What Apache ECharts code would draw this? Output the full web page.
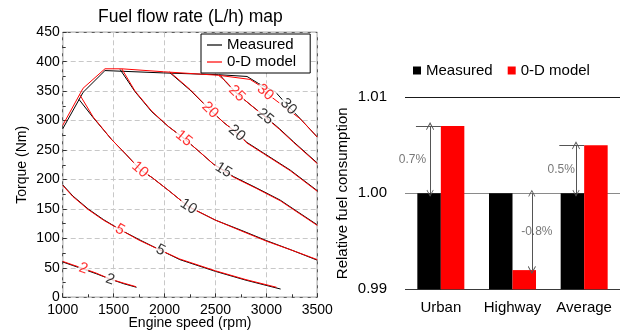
<!DOCTYPE html>
<html>
<head>
<meta charset="utf-8">
<script src="https://cdn.jsdelivr.net/npm/echarts@6/dist/echarts.min.js"></script>
<style>
  html, body { margin: 0; padding: 0; background: #fff; }
  #chart { width: 624px; height: 332px; }
</style>
</head>
<body>
<div id="chart"></div>
<script>
// ---------- Left panel: fuel flow rate (L/h) iso-lines, [engine speed rpm, torque Nm] ----------
const levels = [2, 5, 10, 15, 20, 25, 30];

// full-load torque curve
const measuredLimit = [[1000, 286], [1200, 348], [1415, 385], [1990, 381], [2530, 378], [2810, 375]];
const modelLimit    = [[1000, 292], [1200, 355], [1415, 388], [1580, 388], [1990, 383], [2530, 377], [2840, 370]];

const measured2  = [[1000, 60], [1100, 54], [1200, 48], [1330, 40], [1465, 31], [1600, 23], [1725, 17]];
const model2     = [[1000, 61], [1100, 55], [1203, 49], [1330, 41], [1465, 31], [1600, 24], [1720, 18]];
const measured5  = [[1000, 191], [1100, 172], [1250, 150], [1400, 132], [1563, 115], [1750, 98], [1960, 80], [2150, 64], [2500, 44], [2800, 29], [3140, 14]];
const model5     = [[1000, 190], [1100, 171], [1250, 149], [1400, 131], [1563, 115], [1750, 97], [1960, 80], [2150, 65], [2500, 45], [2800, 30], [3100, 17]];
const measured10 = [[1160, 336], [1300, 305], [1480, 268], [1620, 243], [1760, 217], [1880, 203], [2050, 180], [2235, 154], [2500, 131], [2750, 114], [3005, 96], [3250, 80], [3500, 63]];
const model10    = [[1167, 344], [1300, 306], [1480, 268], [1620, 243], [1760, 217], [1880, 203], [2050, 180], [2235, 154], [2500, 131], [2750, 113], [3005, 95], [3250, 80], [3500, 64]];
const measured15 = [[1563, 387], [1711, 349], [1875, 315], [2038, 290], [2190, 270], [2350, 246], [2481, 226], [2579, 216], [2677, 205], [2900, 186], [3136, 165], [3300, 146], [3500, 123]];
const model15    = [[1580, 388], [1711, 350], [1875, 316], [2038, 290], [2190, 270], [2350, 246], [2481, 226], [2579, 215], [2677, 204], [2900, 185], [3136, 164], [3300, 145], [3500, 122]];
const measured20 = [[2055, 381], [2250, 352], [2448, 318], [2580, 297], [2710, 279], [2809, 263], [2972, 245], [3234, 216], [3500, 181]];
const model20    = [[2050, 383], [2250, 353], [2448, 318], [2580, 297], [2710, 279], [2809, 262], [2972, 244], [3234, 215], [3500, 180]];
const measured25 = [[2546, 377], [2600, 366], [2710, 346], [2850, 326], [2989, 307], [3130, 286], [3267, 264], [3500, 228]];
const model25    = [[2530, 377], [2600, 367], [2710, 346], [2850, 326], [2989, 306], [3130, 285], [3267, 263], [3500, 227]];
const measured30 = [[2810, 375], [2923, 363], [3087, 349], [3218, 324], [3350, 300], [3431, 285], [3500, 272]];
const model30    = [[2840, 370], [2940, 359], [2990, 348], [3104, 333], [3333, 303], [3500, 272]];

// where each level's value is written along its line
const measuredLabelAt = [[1465, 30], [1960, 80], [2235, 154], [2579, 216], [2710, 279], [2989, 307], [3218, 324]];
const modelLabelAt    = [[1203, 49], [1563, 115], [1760, 217], [2190, 270], [2448, 318], [2710, 346], [2989, 348]];

const xTicks = [1000, 1500, 2000, 2500, 3000, 3500];
const yTicks = [0, 50, 100, 150, 200, 250, 300, 350, 400, 450];

// ---------- Right panel: relative fuel consumption per cycle ----------
const cycles = ['Urban', 'Highway', 'Average'];
const measuredRel = [1.000, 1.000, 1.000];
const modelRel = [1.007, 0.992, 1.005];
const relTicks = [0.99, 1.00, 1.01];

// ---------------------------------------------------------------------
const FONT = '"Liberation Sans", Arial, Helvetica, sans-serif';
const BLACK = '#000000';
const RED = '#ff0000';

const measuredLines = [measured2, measured5, measured10, measured15, measured20, measured25, measured30];
const modelLines = [model2, model5, model10, model15, model20, model25, model30];

const series = [];
function addLine(name, data, color) {
  series.push({
    type: 'line', name, data, xAxisIndex: 0, yAxisIndex: 0,
    symbol: 'none', showSymbol: false, silent: true, z: 2,
    lineStyle: { color, width: 1 }, itemStyle: { color }
  });
}
addLine('Measured', measuredLimit, BLACK);
measuredLines.forEach(d => addLine('Measured', d, BLACK));
addLine('0-D model', modelLimit, RED);
modelLines.forEach(d => addLine('0-D model', d, RED));

function levelLabels(id, at, color, rotations) {
  return {
    id, type: 'scatter', xAxisIndex: 0, yAxisIndex: 0, symbolSize: 0, silent: true, z: 6,
    data: at.map((p, i) => ({
      value: p,
      label: { formatter: String(levels[i]), rotate: rotations ? rotations[i] : 0 }
    })),
    label: {
      show: true, position: 'inside', color, fontSize: 15, fontFamily: FONT,
      backgroundColor: '#fff', padding: [0, 1, 0, 1]
    }
  };
}
series.push(levelLabels('lblMeasured', measuredLabelAt, BLACK));
series.push(levelLabels('lblModel', modelLabelAt, RED));

// bars
series.push({
  type: 'bar', name: 'Measured', xAxisIndex: 1, yAxisIndex: 1, data: measuredRel,
  barWidth: 23.5, barGap: '0%', itemStyle: { color: BLACK }, silent: true
});
series.push({
  type: 'bar', name: '0-D model', xAxisIndex: 1, yAxisIndex: 1, data: modelRel,
  barWidth: 23.5, barGap: '0%', itemStyle: { color: RED }, silent: true
});

// difference annotations (overlay value axis: category i spans [i, i+1])
const arrowShift = [-0.15, 0.27, -0.114];   // arrow position relative to category centre
const textShift = [-0.395, 0.34, -0.32];    // text position relative to category centre
const refLines = [];
const arrows = [];
const notes = [];
cycles.forEach((c, i) => {
  const mid = i + 0.5;
  const base = measuredRel[i];
  const val = modelRel[i];
  if (val > base) refLines.push({ coords: [[mid - 0.347, val], [mid, val]] });
  arrows.push({ coords: [[mid + arrowShift[i], base], [mid + arrowShift[i], val]] });
  const pct = ((val - base) / base * 100).toFixed(1) + '%';
  notes.push({ value: [mid + textShift[i], (val + base) / 2], label: { formatter: pct } });
});
const ARROW = 'path://M5,0 L10,8 L9.2,8.6 L5,2.2 L0.8,8.6 L0,8 Z';
series.push({
  type: 'lines', coordinateSystem: 'cartesian2d', xAxisIndex: 2, yAxisIndex: 1, silent: true, z: 5,
  symbol: ['none', 'none'], lineStyle: { color: '#555', width: 1, opacity: 1 }, data: refLines
});
series.push({
  type: 'lines', coordinateSystem: 'cartesian2d', xAxisIndex: 2, yAxisIndex: 1, silent: true, z: 5,
  symbol: [ARROW, ARROW], symbolSize: [7, 8],
  lineStyle: { color: '#555', width: 1, opacity: 1 }, itemStyle: { color: '#555' }, data: arrows
});
series.push({
  type: 'scatter', xAxisIndex: 2, yAxisIndex: 1, symbolSize: 0, silent: true, z: 6, data: notes,
  label: { show: true, position: 'inside', color: '#555', fontSize: 12, fontFamily: FONT }
});

const axisText = { color: BLACK, fontFamily: FONT };
const plain = v => String(v);

const option = {
  animation: false,
  backgroundColor: '#fff',
  textStyle: { fontFamily: FONT },
  title: {
    text: 'Fuel flow rate (L/h) map', left: 98, top: 8, padding: 0,
    textStyle: { fontSize: 17.5, fontWeight: 'normal', color: BLACK, fontFamily: FONT }
  },
  legend: [
    {
      data: ['Measured', '0-D model'], orient: 'vertical', left: 201, top: 34,
      icon: 'rect', itemWidth: 15, itemHeight: 1.2, itemGap: 1,
      padding: [3, 14, 3, 6], borderColor: '#000', borderWidth: 1, backgroundColor: '#fff',
      textStyle: { fontSize: 15, color: BLACK, fontFamily: FONT, lineHeight: 16 },
      selectedMode: false, z: 10
    },
    {
      data: ['Measured', '0-D model'], orient: 'horizontal', left: 413, top: 63,
      icon: 'rect', itemWidth: 8, itemHeight: 8, itemGap: 15, padding: 0,
      textStyle: { fontSize: 15, color: BLACK, fontFamily: FONT },
      selectedMode: false
    }
  ],
  grid: [
    { left: 62.7, right: 306.7, top: 32.3, bottom: 34.7, show: true, borderColor: '#333', borderWidth: 1,
      backgroundColor: 'transparent', outerBoundsMode: 'none' },
    { left: 405, right: 4, top: 97.3, bottom: 42.7, outerBoundsMode: 'none' }
  ],
  xAxis: [
    {
      gridIndex: 0, type: 'value', min: xTicks[0], max: xTicks[xTicks.length - 1], interval: xTicks[1] - xTicks[0],
      name: 'Engine speed (rpm)', nameLocation: 'middle', nameGap: 19, nameMoveOverlap: false,
      nameTextStyle: Object.assign({ fontSize: 14 }, axisText),
      axisLine: { show: false },
      axisTick: { show: true, inside: true, length: 4, lineStyle: { color: '#333' } },
      minorTick: { show: true, splitNumber: 2, length: 3, lineStyle: { color: '#333' } },
      axisLabel: Object.assign({ fontSize: 14, margin: 6, formatter: plain, hideOverlap: false }, axisText),
      splitLine: { show: true, lineStyle: { color: '#c8c8c8', type: [5, 3], width: 1 } }
    },
    {
      gridIndex: 1, type: 'category', data: cycles,
      axisLine: { show: false }, axisTick: { show: false },
      axisLabel: Object.assign({ fontSize: 15, margin: 11, interval: 0, hideOverlap: false }, axisText),
      splitLine: { show: false }
    },
    { gridIndex: 1, type: 'value', min: 0, max: cycles.length, show: false, splitLine: { show: false } }
  ],
  yAxis: [
    {
      gridIndex: 0, type: 'value', min: yTicks[0], max: yTicks[yTicks.length - 1], interval: yTicks[1] - yTicks[0],
      name: 'Torque (Nm)', nameLocation: 'middle', nameGap: 34, nameMoveOverlap: false,
      nameTextStyle: Object.assign({ fontSize: 14 }, axisText),
      axisLine: { show: false },
      axisTick: { show: true, inside: true, length: 4, lineStyle: { color: '#333' } },
      minorTick: { show: true, splitNumber: 2, length: 3, lineStyle: { color: '#333' } },
      axisLabel: Object.assign({ fontSize: 14, margin: 3, formatter: plain }, axisText),
      splitLine: { show: true, lineStyle: { color: '#c8c8c8', type: [5, 3], width: 1 } }
    },
    {
      gridIndex: 1, type: 'value', min: relTicks[0], max: relTicks[relTicks.length - 1],
      interval: 0.01, startValue: relTicks[0],
      name: 'Relative fuel consumption', nameLocation: 'middle', nameGap: 55, nameMoveOverlap: false,
      nameTextStyle: Object.assign({ fontSize: 15 }, axisText),
      axisLine: { show: false }, axisTick: { show: false },
      axisLabel: Object.assign({ fontSize: 15, margin: 18, formatter: v => v.toFixed(2) }, axisText),
      splitLine: { show: true, lineStyle: { color: ['#3a3a3a', '#8a8a8a', '#1a1a1a'], width: 1, type: 'solid' } }
    }
  ],
  series
};

const chart = echarts.init(document.getElementById('chart'), null, { renderer: 'canvas' });
chart.setOption(option);

// turn each level label so it follows the local direction of its line
function valueAt(line, x) {
  if (x <= line[0][0]) return line[0][1];
  for (let i = 0; i < line.length - 1; i++) {
    const a = line[i], b = line[i + 1];
    if (x >= a[0] && x <= b[0]) return a[1] + (b[1] - a[1]) * (x - a[0]) / (b[0] - a[0]);
  }
  return line[line.length - 1][1];
}
function rotationsFor(lines, at) {
  return at.map((p, i) => {
    const line = lines[i];
    const x0 = Math.max(line[0][0], p[0] - 90);
    const x1 = Math.min(line[line.length - 1][0], p[0] + 90);
    const p0 = chart.convertToPixel({ xAxisIndex: 0, yAxisIndex: 0 }, [x0, valueAt(line, x0)]);
    const p1 = chart.convertToPixel({ xAxisIndex: 0, yAxisIndex: 0 }, [x1, valueAt(line, x1)]);
    return Math.atan2(-(p1[1] - p0[1]), p1[0] - p0[0]) * 180 / Math.PI;
  });
}
chart.setOption({
  series: [
    levelLabels('lblMeasured', measuredLabelAt, BLACK, rotationsFor(measuredLines, measuredLabelAt)),
    levelLabels('lblModel', modelLabelAt, RED, rotationsFor(modelLines, modelLabelAt))
  ]
});
</script>
</body>
</html>
